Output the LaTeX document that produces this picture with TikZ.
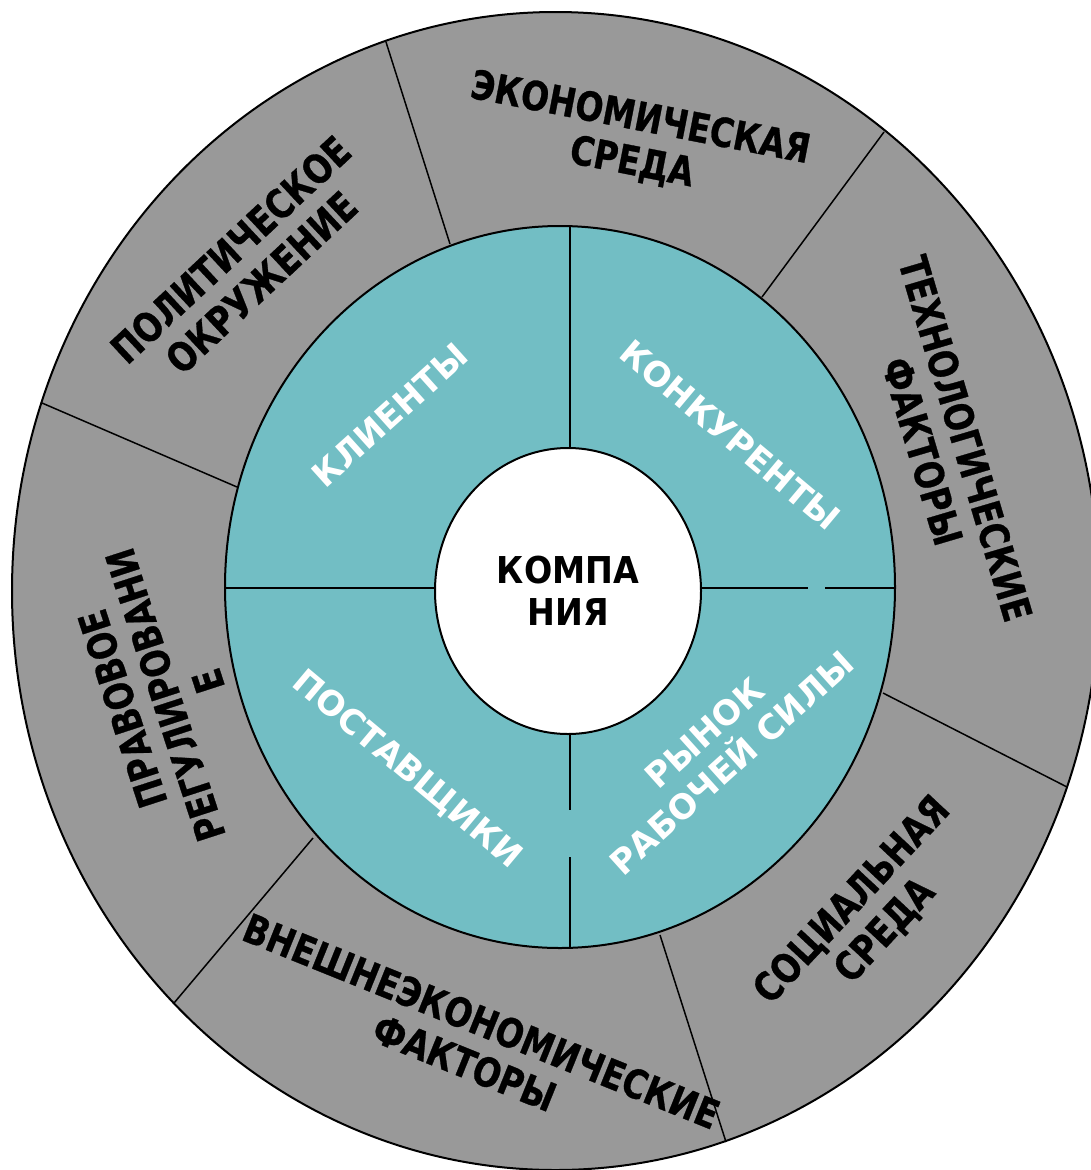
\documentclass[tikz,border=0pt]{standalone}
\usepackage{fontspec}
\setmainfont{DejaVu Sans}
\newfontface\heavysans[FakeBold=0.8]{DejaVu Sans Bold}
\usepackage{graphicx}
\definecolor{ringgray}{RGB}{153,153,153}
\definecolor{ringteal}{RGB}{114,190,196}
% condensed caps for the outer ring and the core
\newcommand{\narrow}[1]{\scalebox{0.82}[1]{#1}}
\newcommand{\cnarrow}[1]{\scalebox{0.9}[1]{#1}}

\begin{document}
\begin{tikzpicture}[x=1pt,y=-1pt,
  outerlbl/.style={font=\fontsize{40}{45}\heavysans, align=center, inner sep=0pt, text=black},
  innerlbl/.style={font=\fontsize{34}{40}\selectfont\bfseries, align=center, inner sep=0pt, text=white},
  border/.style={draw=black, line width=2pt},
  divider/.style={draw=black, line width=1.5pt}]
\useasboundingbox (0,0) rectangle (1090,1170);

% outer ring of external factors
\filldraw[ringgray, border] (555.5,591) ellipse [x radius=543.5, y radius=579];

% sector borders of the outer ring
\coordinate (r1a) at (450,244);  \coordinate (r1b) at (386,42);
\coordinate (r2a) at (762,297);  \coordinate (r2b) at (884,132);
\coordinate (r3a) at (237,487);  \coordinate (r3b) at (42,403);
\coordinate (r4a) at (883,693);  \coordinate (r4b) at (1067,787);
\coordinate (r5a) at (313,838);  \coordinate (r5b) at (174,1003);
\coordinate (r6a) at (660,935);  \coordinate (r6b) at (726,1142);
\foreach \s in {1,...,6} \draw[divider] (r\s a) -- (r\s b);

% middle ring of the immediate environment
\filldraw[ringteal, border] (560,587) ellipse [x radius=335, y radius=361];

% quadrant dividers
\coordinate (vt) at (570,226);  \coordinate (vti) at (570,448);
\coordinate (vbi) at (570,734); \coordinate (vb1) at (570,810);
\coordinate (vb2) at (570,857); \coordinate (vb) at (570,948);
\coordinate (hl) at (225,588);  \coordinate (hli) at (435,588);
\coordinate (hri) at (701,588); \coordinate (hr1) at (808,588);
\coordinate (hr2) at (825,588); \coordinate (hr) at (895,588);
\draw[divider] (vt) -- (vti);
\draw[divider] (vbi) -- (vb1);
\draw[divider] (vb2) -- (vb);
\draw[divider] (hl) -- (hli);
\draw[divider] (hri) -- (hr1);
\draw[divider] (hr2) -- (hr);

% core
\filldraw[fill=white, border] (568,591) ellipse [x radius=133, y radius=143];
\node[font=\fontsize{37}{42}\selectfont\bfseries, align=center, inner sep=0pt] (company) at (568,591)
  {\cnarrow{КОМПА}\\\cnarrow{НИЯ}};

% outer labels
\node[outerlbl, rotate=-11] (econ) at (636,141) {\narrow{ЭКОНОМИЧЕСКАЯ}\\\narrow{СРЕДА}};
\node[outerlbl, rotate=43] (polit) at (246,266) {\narrow{ПОЛИТИЧЕСКОЕ}\\\narrow{ОКРУЖЕНИЕ}};
\node[outerlbl, rotate=-73.5] (tech) at (944,445) {\narrow{ТЕХНОЛОГИЧЕСКИЕ}\\\narrow{ФАКТОРЫ}};
\node[outerlbl, rotate=108] (law) at (165,695) {\narrow{ПРАВОВОЕ}\\\narrow{РЕГУЛИРОВАНИ}\\\narrow{Е}};
\node[outerlbl, rotate=47] (social) at (869,916) {\narrow{СОЦИАЛЬНАЯ}\\\narrow{СРЕДА}};
\node[outerlbl, rotate=-22] (foreign) at (473,1042) {\narrow{ВНЕШНЕЭКОНОМИЧЕСКИЕ}\\\narrow{ФАКТОРЫ}};

% inner labels
\node[innerlbl, rotate=42] (clients) at (390,415) {КЛИЕНТЫ};
\node[innerlbl, rotate=-40] (rivals) at (730,435) {КОНКУРЕНТЫ};
\node[innerlbl, rotate=-40] (suppliers) at (407,770) {ПОСТАВЩИКИ};
\node[innerlbl, rotate=42] (labour) at (718,748) {РЫНОК\\РАБОЧЕЙ СИЛЫ};
\end{tikzpicture}
\end{document}
